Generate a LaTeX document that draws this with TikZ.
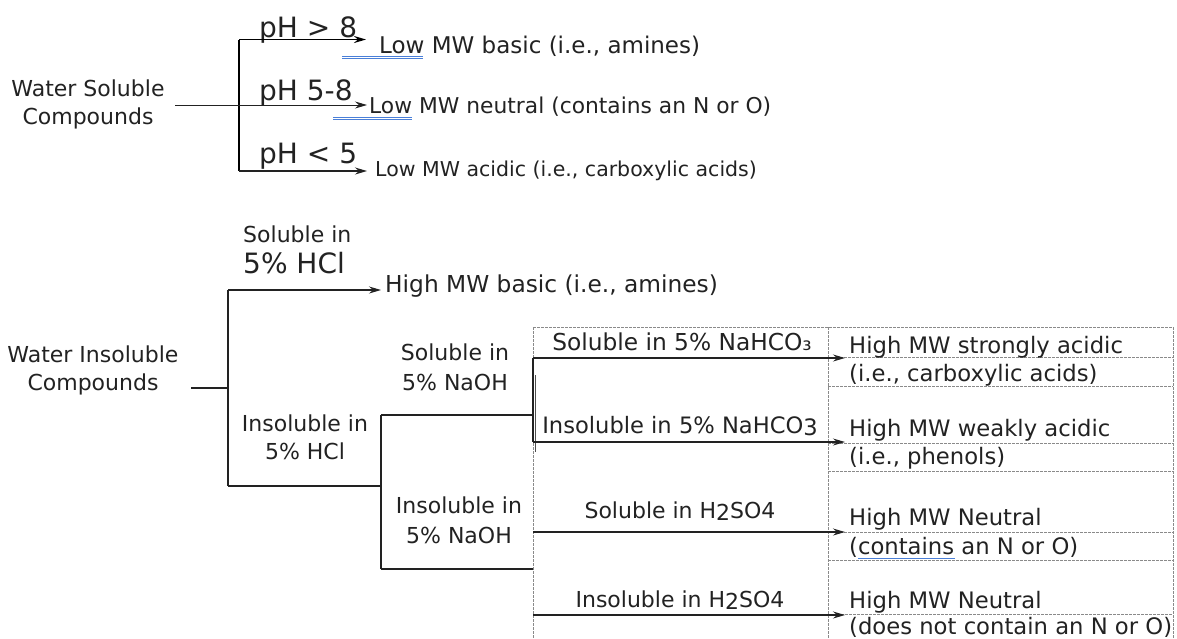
\documentclass[tikz,border=0pt]{standalone}
\usepackage{fontspec}
\setmainfont{DejaVu Sans}
\usetikzlibrary{arrows.meta}
\definecolor{ink}{HTML}{222222}
\definecolor{gridc}{HTML}{8A8A8A}
\definecolor{spell}{HTML}{4A7FD8}
\tikzset{
  txt/.style={inner sep=0pt, anchor=base west, text=ink, font=\fontsize{22.7}{27}\selectfont},
  ctxt/.style={txt, anchor=base},
  mid/.style={font=\fontsize{22}{26}\selectfont},
  wide/.style={font=\fontsize{23.3}{27}\selectfont},
  big/.style={txt, font=\fontsize{28}{32}\selectfont},
  wire/.style={draw=ink, line width=1.2pt},
  thick wire/.style={draw=black, line width=1.9pt},
  arr/.style={wire, -{Stealth[length=12pt,width=7pt,inset=4pt]}},
  thick arr/.style={thick wire, -{Stealth[length=12pt,width=7pt,inset=4pt]}},
  grid line/.style={draw=gridc, line width=0.7pt, dash pattern=on 2.5pt off 1.5pt},
  spellmark/.style={draw=spell, line width=0.8pt},
}
\begin{document}
\begin{tikzpicture}[x=1pt,y=-1pt]
\useasboundingbox (0,0) rectangle (1177,638);

% ---------------- dashed table ----------------
\draw[grid line] (533,327) -- (1173,327);
\draw[grid line] (533,327) -- (533,638);
\draw[grid line] (828,327) -- (828,638);
\draw[grid line] (1173,327) -- (1173,638);
\foreach \yy in {357,386,443,471,532,560} \draw[grid line] (828,\yy) -- (1173,\yy);
\draw[grid line] (533,614) -- (1173,614);

% ---------------- top: water soluble ----------------
\node[ctxt, mid] (ws1) at (88,96) {Water Soluble};
\node[ctxt, mid] (ws2) at (88,124) {Compounds};
\coordinate (wsout) at (175,105);
\coordinate (ta) at (239,39.5);
\coordinate (tb) at (239,171);
\coordinate (ea) at (366,39.5);
\coordinate (eb) at (367,105);
\coordinate (ec) at (367,171);
\node[big] (ph1) at (259,37) {pH > 8};
\node[big] (ph2) at (259,100) {pH 5-8};
\node[big] (ph3) at (259,163) {pH < 5};
\node[txt, font=\fontsize{23}{27}\selectfont] (lb) at (379,53) {Low MW basic (i.e., amines)};
\node[txt, font=\fontsize{21.8}{26}\selectfont] (ln) at (369,113) {Low MW neutral (contains an N or O)};
\node[txt, font=\fontsize{20.5}{24}\selectfont] (la) at (375,176) {Low MW acidic (i.e., carboxylic acids)};

\draw[thick wire] (ta) -- (tb);
\draw[thick arr] (ta) -- (ea);
\draw[arr, line width=0.9pt] (wsout) -- (eb);
\draw[arr, line width=1.3pt] (tb) -- (ec);

\draw[spellmark] (342,56) -- (423,56) (342,58.5) -- (423,58.5);
\draw[spellmark] (333,117) -- (412,117) (333,119.5) -- (412,119.5);

% ---------------- bottom: water insoluble ----------------
\node[ctxt, mid] (wi1) at (93,362) {Water Insoluble};
\node[ctxt, mid] (wi2) at (93,390) {Compounds};
\coordinate (wiout) at (191,388);
\coordinate (wj) at (228,388);
\coordinate (hclT) at (228,290);
\coordinate (hclB) at (228,486);
\coordinate (hbEnd) at (381,290);
\node[txt, mid] (s1) at (243,242) {Soluble in};
\node[big] (s2) at (243,273) {5\% HCl};
\node[txt, wide] (hb) at (385,292) {High MW basic (i.e., amines)};
\node[ctxt, mid] (i1) at (305,431) {Insoluble in};
\node[ctxt, mid] (i2) at (305,459) {5\% HCl};

\draw[wire] (wiout) -- (wj);
\draw[wire] (hclT) -- (hclB);
\draw[arr] (hclT) -- (hbEnd);

\coordinate (nJ) at (381,486);
\coordinate (nT) at (381,415);
\coordinate (nB) at (381,569);
\coordinate (nTe) at (533,415);
\coordinate (nBe) at (533,569);
\draw[wire] (hclB) -- (nJ);
\draw[wire] (nT) -- (nB);
\draw[wire] (nT) -- (nTe);
\draw[wire] (nB) -- (nBe);
\node[ctxt, mid] (sn1) at (455,360) {Soluble in};
\node[ctxt, mid] (sn2) at (455,390) {5\% NaOH};
\node[ctxt, mid] (in1) at (459,513) {Insoluble in};
\node[ctxt, mid] (in2) at (459,543) {5\% NaOH};

\coordinate (bT) at (533,358);
\coordinate (bB) at (533,442);
\coordinate (bTe) at (845,358);
\coordinate (bBe) at (845,442);
\draw[wire] (bT) -- (bB);
\draw[wire, line width=1.6pt, draw=ink!80] (535.5,375) -- (535.5,452);
\draw[arr] (bT) -- (bTe);
\draw[arr] (bB) -- (bBe);
\node[ctxt, wide] (sb) at (682,350) {Soluble in 5\% NaHCO₃};
\node[ctxt, font=\fontsize{22.6}{27}\selectfont] (ib) at (680,433) {Insoluble in 5\% NaHCO\raisebox{-2pt}{3}};

\coordinate (hT) at (533,532);
\coordinate (hB) at (533,615);
\coordinate (hTe) at (845,532);
\coordinate (hBe) at (845,615);
\draw[arr] (hT) -- (hTe);
\draw[arr] (hB) -- (hBe);
\node[ctxt, mid] (sh) at (680,518) {Soluble in H\raisebox{-2pt}{2}SO4};
\node[ctxt, mid] (ih) at (680,607) {Insoluble in H\raisebox{-2pt}{2}SO4};

% right column
\node[txt] (r1) at (849,353) {High MW strongly acidic};
\node[txt] (r2) at (849,381) {(i.e., carboxylic acids)};
\node[txt] (r3) at (849,436) {High MW weakly acidic};
\node[txt] (r4) at (849,464) {(i.e., phenols)};
\node[txt] (r5) at (849,525) {High MW Neutral};
\node[txt] (r6) at (849,554) {(contains an N or O)};
\node[txt] (r7) at (849,608) {High MW Neutral};
\node[txt] (r8) at (849,634) {(does not contain an N or O)};
\draw[spellmark] (858,558) -- (955,558);
\end{tikzpicture}
\end{document}
